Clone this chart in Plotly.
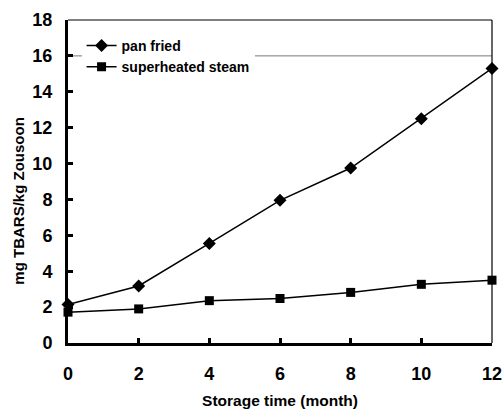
import plotly.graph_objects as go

months = [0, 2, 4, 6, 8, 10, 12]
pan_fried = [2.15, 3.18, 5.55, 7.95, 9.75, 12.5, 15.3]
superheated_steam = [1.72, 1.9, 2.36, 2.48, 2.82, 3.27, 3.5]
x_ticks = [0, 2, 4, 6, 8, 10, 12]
y_ticks = [0, 2, 4, 6, 8, 10, 12, 14, 16, 18]

fig = go.Figure()
fig.add_trace(go.Scatter(x=months, y=pan_fried, name="pan fried", mode="lines+markers",
                         line=dict(color="black", width=1.5),
                         marker=dict(symbol="diamond", size=10, color="black"),
                         cliponaxis=False))
fig.add_trace(go.Scatter(x=months, y=superheated_steam, name="superheated steam", mode="lines+markers",
                         line=dict(color="black", width=1.5),
                         marker=dict(symbol="square", size=9, color="black"),
                         cliponaxis=False))

# grid line at 16 and thin top/right frame
fig.add_shape(type="line", xref="paper", yref="y", x0=0, x1=1, y0=16, y1=16,
              line=dict(color="#777777", width=1), layer="below")
fig.add_shape(type="line", xref="paper", yref="paper", x0=0, x1=1, y0=1, y1=1,
              line=dict(color="black", width=1.2))
fig.add_shape(type="line", xref="paper", yref="paper", x0=1, x1=1, y0=0, y1=1,
              line=dict(color="black", width=1.2))

# y-axis title (placed slightly below the axis centre, as in the reference)
fig.add_annotation(text="<b>mg TBARS/kg Zousoon</b>", textangle=-90,
                   xref="paper", yref="paper", x=-0.116, y=0.44,
                   xanchor="center", yanchor="middle", showarrow=False,
                   font=dict(size=15, color="black"))

fig.update_layout(
    width=504, height=410,
    margin=dict(l=68, r=12, t=20, b=67),
    plot_bgcolor="white", paper_bgcolor="white",
    font=dict(family="Liberation Sans, Arial", color="black"),
    showlegend=True,
    legend=dict(x=0.032, y=0.969, xanchor="left", yanchor="top",
                bgcolor="white", borderwidth=0,
                font=dict(size=14, color="black", weight="bold"),
                tracegroupgap=0),
    xaxis=dict(range=[0, 12], tickvals=x_ticks, showgrid=False, zeroline=False,
               showline=True, linecolor="black", linewidth=3,
               ticks="inside", ticklen=5, tickwidth=3, tickcolor="black",
               tickfont=dict(size=18, weight="bold"),
               ticklabelstandoff=12, automargin=False,
               title=dict(text="<b>Storage time (month)</b>", font=dict(size=15.5), standoff=13)),
    yaxis=dict(range=[0, 18], tickvals=y_ticks, showgrid=False, zeroline=False,
               showline=True, linecolor="black", linewidth=3,
               ticks="inside", ticklen=5, tickwidth=3, tickcolor="black",
               tickfont=dict(size=18, weight="bold"),
               ticklabelstandoff=9, automargin=False),
)

fig.write_html("out.html", config={"displayModeBar": False},
               post_script="document.body.style.margin='0';")
